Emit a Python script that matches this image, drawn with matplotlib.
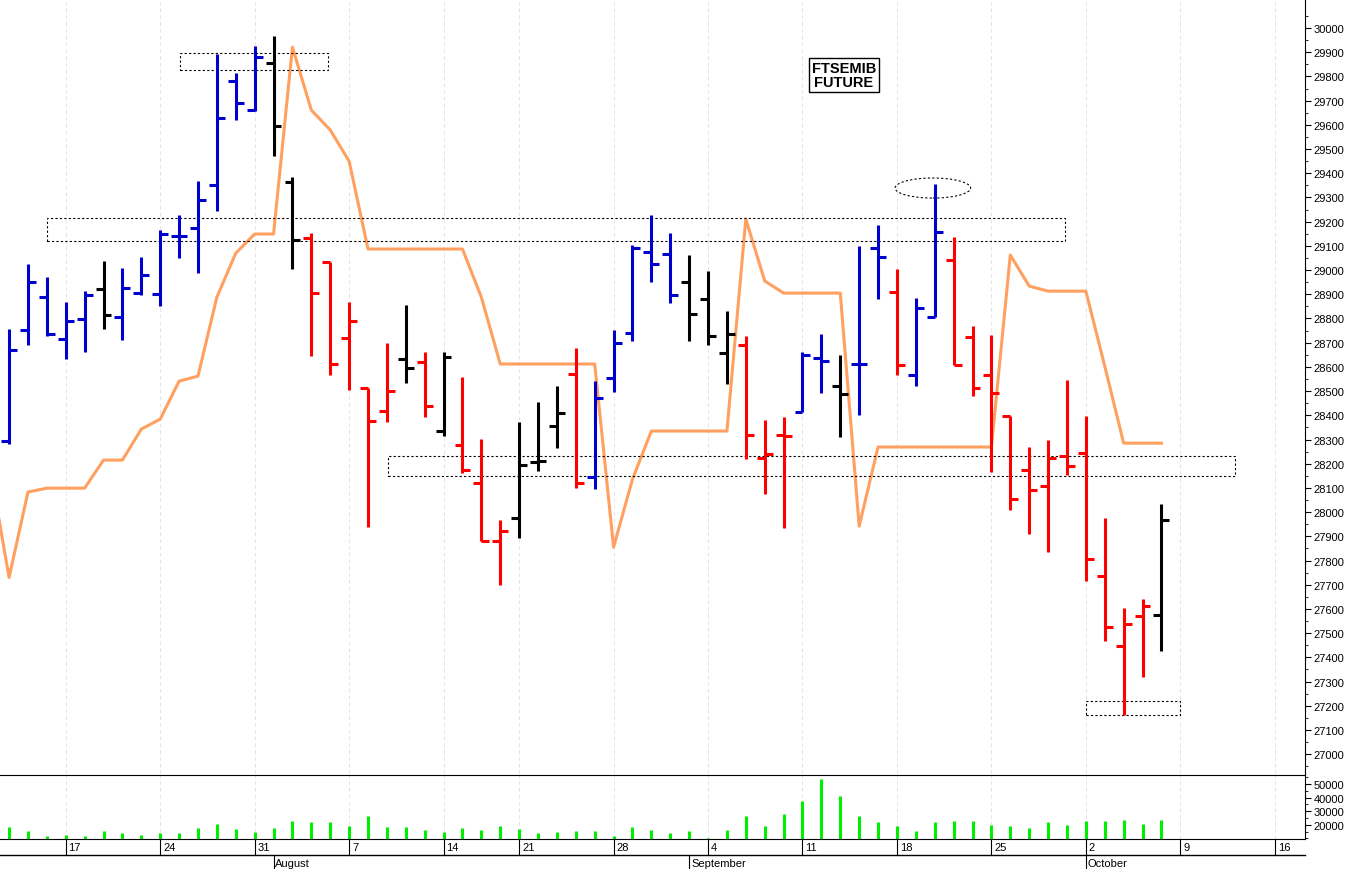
import numpy as np
import matplotlib
matplotlib.use("Agg")
import matplotlib.pyplot as plt
from matplotlib.patches import Rectangle, Ellipse
from matplotlib.transforms import blended_transform_factory

plt.rcParams["font.family"] = ["Liberation Sans", "DejaVu Sans"]

# OHLC data per trading day (index 0 = first bar)
opens = [28293, 28752, 28888, 28715, 28798, 28921, 28806, 28905, 28901, 29141,
         29174, 29351, 29781, 29661, 29855, 29364, 29132, 29033, 28719, 28512,
         28417, 28632, 28620, 28335, 28277, 28120, 27880, 27975, 28207, 28355,
         28570, 28145, 28554, 28740, 29074, 29066, 28950, 28880, 28657, 28690,
         28223, 28318, 28413, 28636, 28521, 28612, 29091, 28909, 28566, 28806,
         29041, 28723, 28566, 28397, 28174, 28108, 28231, 28244, 27736, 27446,
         27570, 27574]
highs = [28756, 29025, 28971, 28868, 28913, 29037, 29008, 29054, 29165, 29227,
         29368, 29893, 29814, 29926, 29967, 29384, 29153, 29033, 28868, 28512,
         28698, 28855, 28661, 28661, 28558, 28302, 27967, 28372, 28455, 28521,
         28678, 28541, 28752, 29103, 29227, 29153, 29062, 28996, 28831, 28727,
         28380, 28393, 28661, 28736, 28649, 29100, 29186, 29004, 28884, 29355,
         29136, 28769, 28731, 28397, 28269, 28298, 28545, 28397, 27975, 27603,
         27641, 28033]
lows = [28281, 28690, 28727, 28632, 28661, 28756, 28711, 28897, 28851, 29050,
        28988, 29244, 29620, 29657, 29471, 29004, 28645, 28566, 28504, 27938,
        28372, 28533, 28393, 28314, 28161, 27880, 27698, 27893, 28170, 28265,
        28099, 28095, 28496, 28707, 28950, 28864, 28707, 28690, 28529, 28219,
        28074, 27934, 28413, 28492, 28310, 28400, 28880, 28566, 28521, 28806,
        28607, 28479, 28165, 28008, 27909, 27835, 28153, 27715, 27467, 27161,
        27318, 27426]
closes = [28670, 28950, 28736, 28789, 28897, 28814, 28926, 28979, 29149, 29141,
          29289, 29628, 29690, 29880, 29595, 29124, 28905, 28612, 28789, 28376,
          28500, 28595, 28438, 28641, 28174, 27880, 27922, 28194, 28211, 28409,
          28120, 28471, 28698, 29091, 29025, 28897, 28818, 28727, 28736, 28318,
          28240, 28314, 28649, 28624, 28488, 28612, 29054, 28607, 28843, 29157,
          28607, 28512, 28492, 28054, 28091, 28223, 28190, 27806, 27525, 27537,
          27612, 27967]
bar_colors = list("BBBBBKBBBBBBBBKKRRRRRKRKRRRKKKRBBBBBKKKRRRBBKBBRBBRRRRRRRRRRRK")

# orange reference line (one value per bar, plus a leading value)
line_vals = [28180, 27730, 28083, 28099, 28099, 28099, 28215, 28215, 28343, 28384,
             28541, 28562, 28888, 29070, 29149, 29149, 29921, 29661, 29579, 29450,
             29087, 29087, 29087, 29087, 29087, 29087, 28888, 28612, 28612, 28612,
             28612, 28612, 28612, 27855, 28136, 28335, 28335, 28335, 28335, 28335,
             29211, 28955, 28905, 28905, 28905, 28905, 27942, 28269, 28269, 28269,
             28269, 28269, 28269, 28269, 29062, 28934, 28913, 28913, 28913, 28603,
             28285, 28285, 28285]

volumes = [18500, 15600, 11650, 12100, 11400, 15100, 13900, 12400, 13600, 13600,
           17300, 20500, 16600, 14600, 17300, 22700, 22000, 21700, 19000, 26400,
           18500, 18000, 15800, 14300, 17300, 16300, 19000, 16800, 13900, 14600,
           15100, 15600, 11900, 18000, 16100, 13900, 15100, 10200, 16100, 26400,
           19300, 27900, 37200, 53700, 41400, 26400, 22200, 18800, 15600, 22200,
           22900, 22900, 20000, 18800, 17500, 22200, 20000, 22500, 22900, 23700,
           20700, 23700]

week_idx = [3, 8, 13, 18, 23, 27, 32, 37, 42, 47, 52, 57, 62, 67]
week_labels = ["17", "24", "31", "7", "14", "21", "28", "4", "11", "18", "25", "2", "9", "16"]
month_idx = [14, 36, 57]
month_labels = ["August", "September", "October"]

colmap = {"B": "#0000cc", "R": "#ff0000", "K": "#000000"}
grid_col = "#e4e4ea"

fig = plt.figure(figsize=(13.52, 8.70), dpi=100)
ax = fig.add_axes([0, 95 / 870, 1305 / 1352, 775 / 870])
axv = fig.add_axes([0, 30 / 870, 1305 / 1352, 64 / 870], sharex=ax)

x = np.arange(len(opens))
cols = [colmap[c] for c in bar_colors]
lw = 2.2
ax.vlines(x, lows, highs, colors=cols, lw=lw)
ax.hlines(opens, x - 0.42, x, colors=cols, lw=lw)
ax.hlines(closes, x, x + 0.42, colors=cols, lw=lw)
ax.plot(np.arange(-1, len(line_vals) - 1), line_vals, color="#ffa060", lw=2.2, zorder=1)

# annotation boxes
rect_kw = dict(fill=False, ls=(0, (2, 2)), lw=0.8, ec="black")
ax.add_patch(Rectangle((9.05, 29826), 7.85, 71, **rect_kw))
ax.add_patch(Rectangle((2.0, 29120), 53.9, 95, **rect_kw))
ax.add_patch(Rectangle((20.05, 28149), 44.85, 82, **rect_kw))
ax.add_patch(Rectangle((57.0, 27161), 5.0, 58, **rect_kw))
ax.add_patch(Ellipse((48.9, 29339), 4.0, 83, **rect_kw))
ax.text(44.2, 29805, "FTSEMIB\nFUTURE", ha="center", va="center", fontsize=10.5,
        fontweight="bold", linespacing=1.0,
        bbox=dict(boxstyle="square,pad=0.2", fc="white", ec="black", lw=1))

ax.set_xlim(-0.48, 68.6)
ax.set_ylim(26918, 30120)
ax.yaxis.tick_right()
ax.set_yticks(np.arange(27000, 30001, 100))
ax.set_yticks(np.arange(26950, 30100, 50), minor=True)
ax.tick_params(axis="y", labelsize=8, length=4, which="major", pad=2)
ax.tick_params(axis="y", length=2, which="minor")
ax.tick_params(axis="x", bottom=False, labelbottom=False)
for s in ["top", "left", "bottom"]:
    ax.spines[s].set_visible(False)
for xi in week_idx:
    ax.axvline(xi, color=grid_col, lw=0.7, ls=(0, (4, 3)), zorder=0)

# volume panel
axv.vlines(x, 0, volumes, colors="#00ee00", lw=2.2)
axv.set_ylim(9500, 56600)
axv.yaxis.tick_right()
axv.set_yticks([20000, 30000, 40000, 50000])
axv.set_yticks(np.arange(10000, 56000, 5000), minor=True)
axv.tick_params(axis="y", labelsize=8, length=4, pad=2)
axv.tick_params(axis="y", which="minor", length=2)
axv.tick_params(axis="x", bottom=False, labelbottom=False)
axv.spines["left"].set_visible(False)
for xi in week_idx:
    axv.axvline(xi, color=grid_col, lw=0.7, ls=(0, (4, 3)), zorder=0)

# date axis rows below the volume panel
tr = blended_transform_factory(axv.transData, fig.transFigure)
for xi, lab in zip(week_idx, week_labels):
    axv.plot([xi, xi], [30 / 870, 14 / 870], color="black", lw=0.8, transform=tr, clip_on=False)
    axv.text(xi + 0.15, 22 / 870, lab, transform=tr, fontsize=8, va="center", ha="left")
for xi, lab in zip(month_idx, month_labels):
    axv.plot([xi, xi], [14 / 870, 0], color="black", lw=0.8, transform=tr, clip_on=False)
    axv.text(xi + 0.1, 6 / 870, lab, transform=tr, fontsize=8, va="center", ha="left")
fig.add_artist(plt.Line2D([0, 1305 / 1352], [14 / 870, 14 / 870], color="black", lw=1))

fig.savefig("out.png", dpi=100)
